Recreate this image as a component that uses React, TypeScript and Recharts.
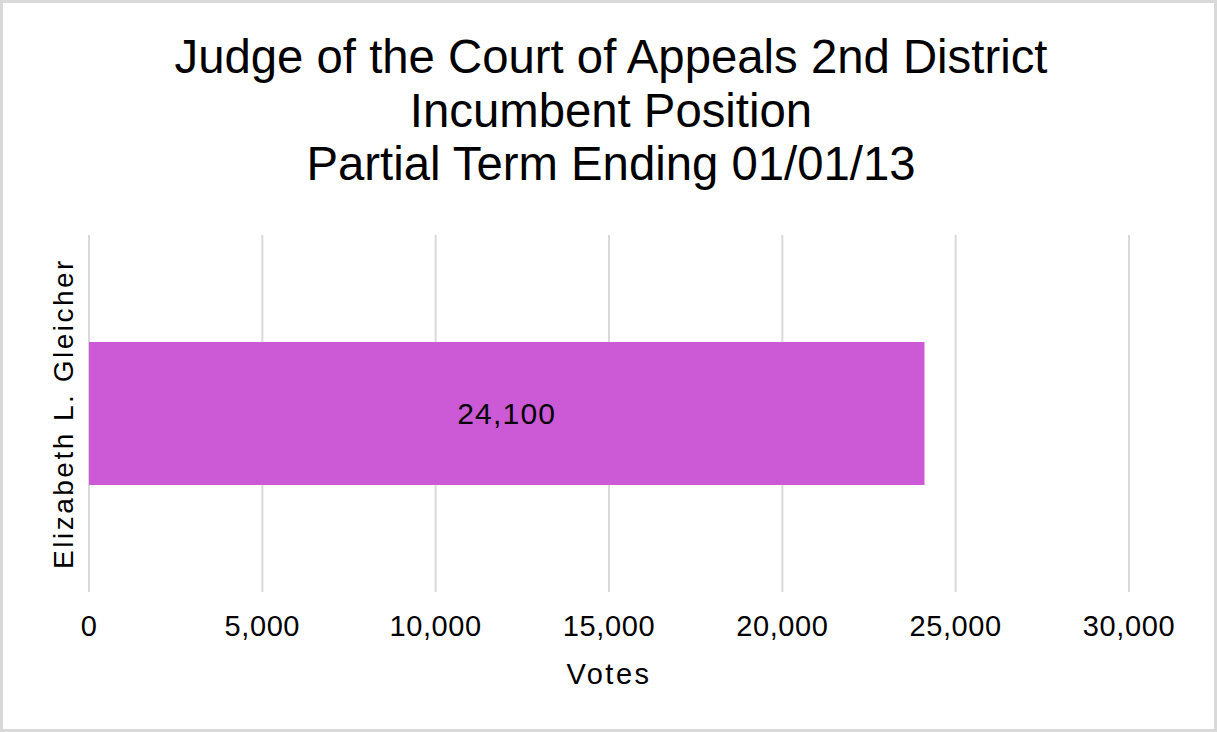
import { Bar, BarChart, CartesianGrid, LabelList, XAxis, YAxis, Label } from "recharts"

const candidates = ["Elizabeth L. Gleicher"]
const votes = [24100]
const xTicks = [0, 5000, 10000, 15000, 20000, 25000, 30000]
const titleLines = [
  "Judge of the Court of Appeals 2nd District",
  "Incumbent Position",
  "Partial Term Ending 01/01/13",
]

const data = candidates.map((name, i) => ({ name, votes: votes[i] }))

const FONT = '"Liberation Sans", Arial, sans-serif'
const fmt = (v: number) => v.toLocaleString("en-US")

function CandidateTick(props: any) {
  const { y, payload } = props
  return (
    <text
      x={73}
      y={y}
      transform={`rotate(-90, 73, ${y})`}
      textAnchor="middle"
      fontSize={28}
      letterSpacing={2.5}
      fontFamily={FONT}
      fill="#000"
    >
      {payload.value}
    </text>
  )
}

export default function App() {
  return (
    <div
      style={{
        position: "fixed",
        left: 0,
        top: 0,
        width: 1217,
        height: 732,
        boxSizing: "border-box",
        border: "3px solid #d9d9d9",
        background: "#fff",
        fontFamily: FONT,
      }}
    >
      <svg width={1217} height={200} style={{ position: "absolute", left: -3, top: -3 }}>
        {titleLines.map((line, i) => (
          <text
            key={line}
            x={611}
            y={73 + i * 53.5}
            textAnchor="middle"
            fontSize={47.3}
            fontFamily={FONT}
            fill="#000"
          >
            {line}
          </text>
        ))}
      </svg>
      <div style={{ position: "absolute", left: -3, top: -3 }}>
        <BarChart
          width={1217}
          height={732}
          data={data}
          layout="vertical"
          barCategoryGap="30%"
          margin={{ top: 235, right: 88, bottom: 60, left: 39 }}
        >
          <CartesianGrid vertical horizontal={false} stroke="#d9d9d9" strokeWidth={2} />
          <XAxis
            type="number"
            domain={[0, 30000]}
            ticks={xTicks}
            tickFormatter={fmt}
            axisLine={false}
            tickLine={false}
            tickMargin={17}
            height={80}
            tick={{ fontSize: 29, letterSpacing: 0.6, fontFamily: FONT, fill: "#000" }}
          >
            <Label
              value="Votes"
              position="insideBottom"
              offset={-12}
              style={{ fontSize: 29, letterSpacing: 2.5, fontFamily: FONT, fill: "#000" }}
            />
          </XAxis>
          <YAxis
            type="category"
            dataKey="name"
            width={50}
            axisLine={false}
            tickLine={false}
            tick={<CandidateTick />}
          />
          <Bar dataKey="votes" fill="#cc5ad7" isAnimationActive={false}>
            <LabelList
              dataKey="votes"
              position="center"
              formatter={(v: any) => fmt(Number(v))}
              style={{ fontSize: 30, letterSpacing: 1.2, fontFamily: FONT, fill: "#000" }}
            />
          </Bar>
        </BarChart>
      </div>
    </div>
  )
}
